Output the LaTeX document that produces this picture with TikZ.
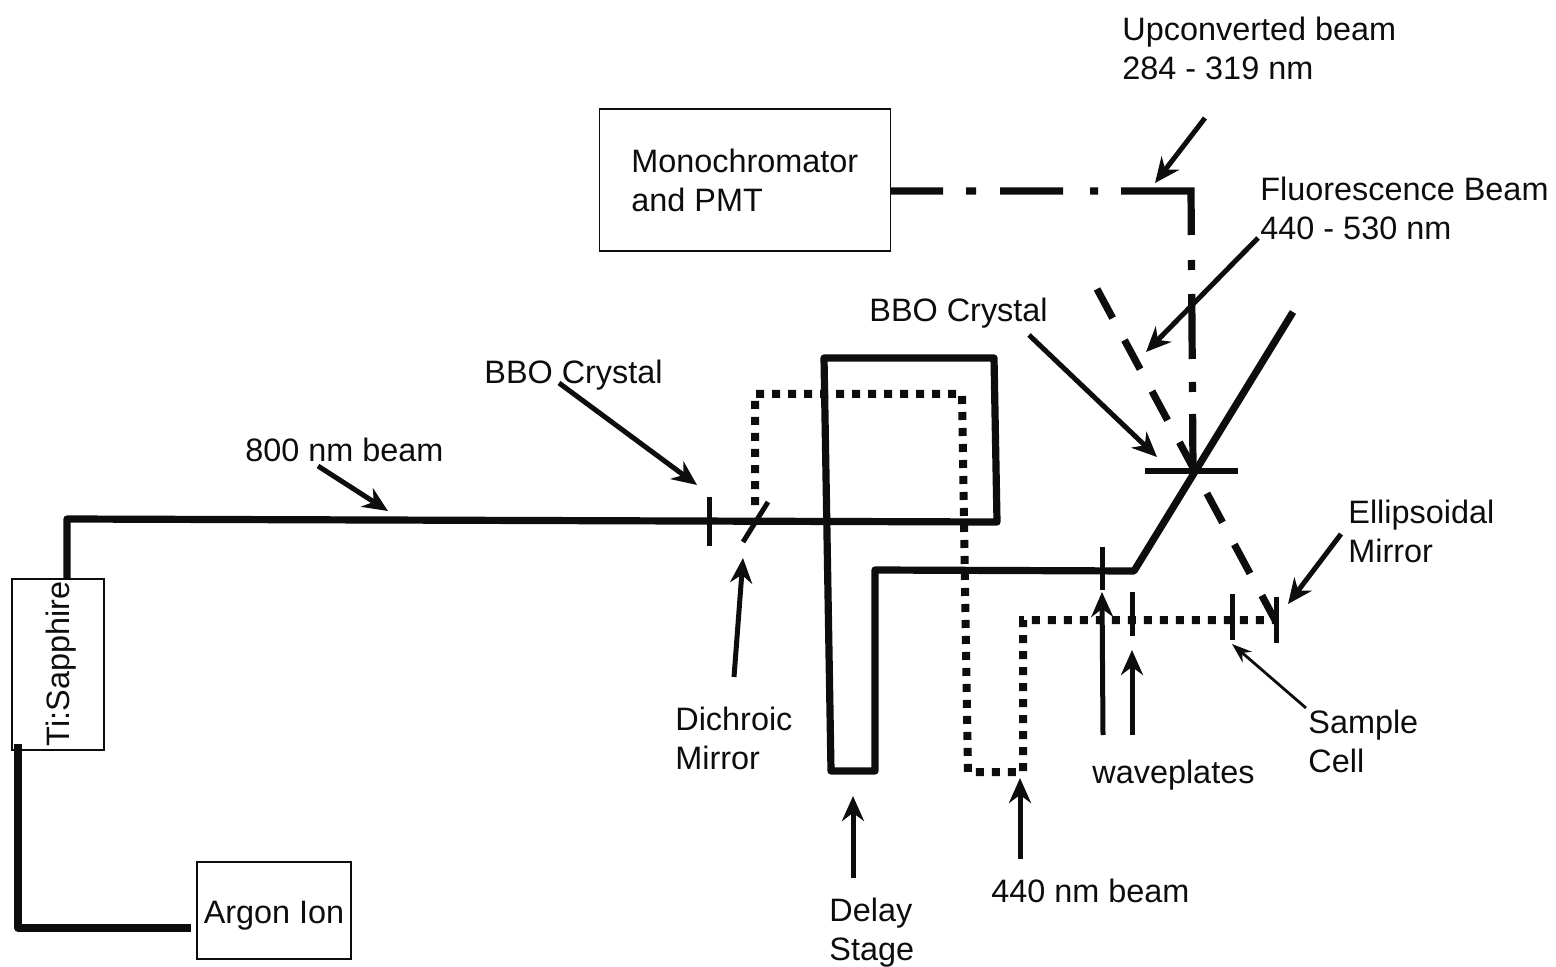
\documentclass[tikz,border=0pt]{standalone}
\usepackage{fontspec}
\setmainfont{Liberation Sans}
\usetikzlibrary{arrows.meta}
\definecolor{ink}{gray}{0.05}
\tikzset{
 x=0.5pt,y=-0.5pt,
 every node/.style={font=\fontsize{16.2}{19.5}\selectfont,text=ink,inner sep=0pt},
 lab/.style={align=left,anchor=north west,yshift=-0.6pt},
 boxn/.style={draw=ink,line width=0.9pt,fill=none},
 beam/.style={draw=ink,line width=3.6pt,line join=round},
 solidb/.style={beam},
 dotb/.style={beam,line width=4pt,line join=miter,dash pattern=on 4pt off 4pt},
 dashb/.style={beam,dash pattern=on 16.5pt off 12.5pt},
 dashdot/.style={beam,line join=miter,dash pattern=on 26pt off 11.5pt on 5pt off 12pt on 31.5pt off 13.5pt on 4pt off 11.5pt on 57pt off 12.5pt on 5pt off 12pt on 32.5pt off 11.5pt on 5pt off 11pt on 29pt off 100pt},
 optic/.style={draw=ink,line width=2.5pt},
 pointer/.style={draw=ink,line width=2.5pt,-{Stealth[length=12.5pt,width=11pt]}},
 thinptr/.style={draw=ink,line width=1.4pt,-{Stealth[length=10pt,width=7pt]}},
}
\begin{document}
\begin{tikzpicture}
\useasboundingbox (0,0) rectangle (1556,967);
\fill[white] (0,0) rectangle (1556,967);
% boxes
\node[boxn,minimum width=46pt,minimum height=85.5pt] (ti) at (58,664.5) {};
\node[rotate=90,anchor=center] (tit) at (61,664) {Ti:Sapphire};
\node[boxn,minimum width=77pt,minimum height=48.5pt] (ar) at (274,910.5) {};
\node (art) at (274,916) {Argon Ion};
\node[boxn,minimum width=145.5pt,minimum height=71pt] (mono) at (745,180) {};
\node[lab] (monot) at (631,147) {Monochromator\\and PMT};
% beam coords
\coordinate (a1) at (18,744);
\coordinate (a2) at (18,928);
\coordinate (a3) at (191,928);
\coordinate (b1) at (67,579);
\coordinate (b2) at (67,519);
\coordinate (b3) at (997,522);
\coordinate (b4) at (994,358);
\coordinate (b5) at (824,358);
\coordinate (b6) at (831,771);
\coordinate (b7) at (875,771);
\coordinate (b8) at (875,570);
\coordinate (b9) at (1134,571);
\coordinate (b10) at (1293,312);
\coordinate (d1) at (755,505);
\coordinate (d2) at (755,394);
\coordinate (d3) at (962,394);
\coordinate (d4) at (968,772);
\coordinate (d5) at (1023,772);
\coordinate (d6) at (1023,620);
\coordinate (d7) at (1278,620);
\coordinate (u1) at (891,191);
\coordinate (u2) at (1191,191);
\coordinate (u3) at (1193,470);
\coordinate (f1) at (1097,289);
\coordinate (f2) at (1275,620);
% beams
\draw[solidb] (a1) -- (a2) -- (a3);
\draw[solidb] (b1) -- (b2) -- (b3) -- (b4) -- (b5) -- (b6) -- (b7) -- (b8) -- (b9) -- (b10);
\draw[dotb] (d1) -- (d2) -- (d3) -- (d4) -- (d5) -- (d6) -- (d7);
\draw[dashdot] (u1) -- (u2) -- (u3);
\draw[dashb] (f1) -- (f2);
% optics
\coordinate (o1a) at (709,497); \coordinate (o1b) at (709,546);
\coordinate (o2a) at (768,502); \coordinate (o2b) at (743,542);
\coordinate (o3a) at (1145,471); \coordinate (o3b) at (1238,471);
\coordinate (o4a) at (1102,547); \coordinate (o4b) at (1102,590);
\coordinate (o5a) at (1132,592); \coordinate (o5b) at (1132,636);
\coordinate (o6a) at (1232,594); \coordinate (o6b) at (1232,640);
\coordinate (o7a) at (1276,597); \coordinate (o7b) at (1276,643);
\draw[optic] (o1a) -- (o1b);
\draw[optic] (o2a) -- (o2b);
\draw[draw=ink,line width=3pt] (o3a) -- (o3b);
\draw[optic] (o4a) -- (o4b);
\draw[optic] (o5a) -- (o5b);
\draw[optic] (o6a) -- (o6b);
\draw[optic] (o7a) -- (o7b);
% labels
\node[lab] (l1) at (1122,15) {Upconverted beam\\284 - 319 nm};
\node[lab] (l2) at (1260,175) {Fluorescence Beam\\440 - 530 nm};
\node[lab] (l3) at (869,296) {BBO Crystal};
\node[lab] (l4) at (484,358) {BBO Crystal};
\node[lab] (l5) at (245,436) {800 nm beam};
\node[lab] (l6) at (1348,498) {Ellipsoidal\\Mirror};
\node[lab] (l7) at (675,705) {Dichroic\\Mirror};
\node[lab] (l8) at (1308,708) {Sample\\Cell};
\node[lab] (l9) at (1092,758) {waveplates};
\node[lab] (l10) at (991,877) {440 nm beam};
\node[lab] (l11) at (829,896) {Delay\\Stage};
% pointers
\coordinate (p1a) at (1205,118); \coordinate (p1b) at (1155,183);
\coordinate (p2a) at (1258,238); \coordinate (p2b) at (1146,352);
\coordinate (p3a) at (1029,335); \coordinate (p3b) at (1157,457);
\coordinate (p4a) at (559,383); \coordinate (p4b) at (697,485);
\coordinate (p5a) at (318,466); \coordinate (p5b) at (388,511);
\coordinate (p6a) at (1341,534); \coordinate (p6b) at (1288,604);
\coordinate (p7a) at (734,677); \coordinate (p7b) at (743,558);
\coordinate (p8a) at (1306,708); \coordinate (p8b) at (1232,644);
\coordinate (p9a) at (1103,735); \coordinate (p9b) at (1102,592);
\coordinate (p10a) at (1132,735); \coordinate (p10b) at (1132,650);
\coordinate (p11a) at (1020,859); \coordinate (p11b) at (1020,778);
\coordinate (p12a) at (853,878); \coordinate (p12b) at (853,796);
\draw[pointer] (p1a) -- (p1b);
\draw[pointer] (p2a) -- (p2b);
\draw[pointer] (p3a) -- (p3b);
\draw[pointer] (p4a) -- (p4b);
\draw[pointer] (p5a) -- (p5b);
\draw[pointer] (p6a) -- (p6b);
\draw[pointer] (p7a) -- (p7b);
\draw[thinptr] (p8a) -- (p8b);
\draw[pointer] (p9a) -- (p9b);
\draw[pointer] (p10a) -- (p10b);
\draw[pointer] (p11a) -- (p11b);
\draw[pointer] (p12a) -- (p12b);
\end{tikzpicture}
\end{document}
